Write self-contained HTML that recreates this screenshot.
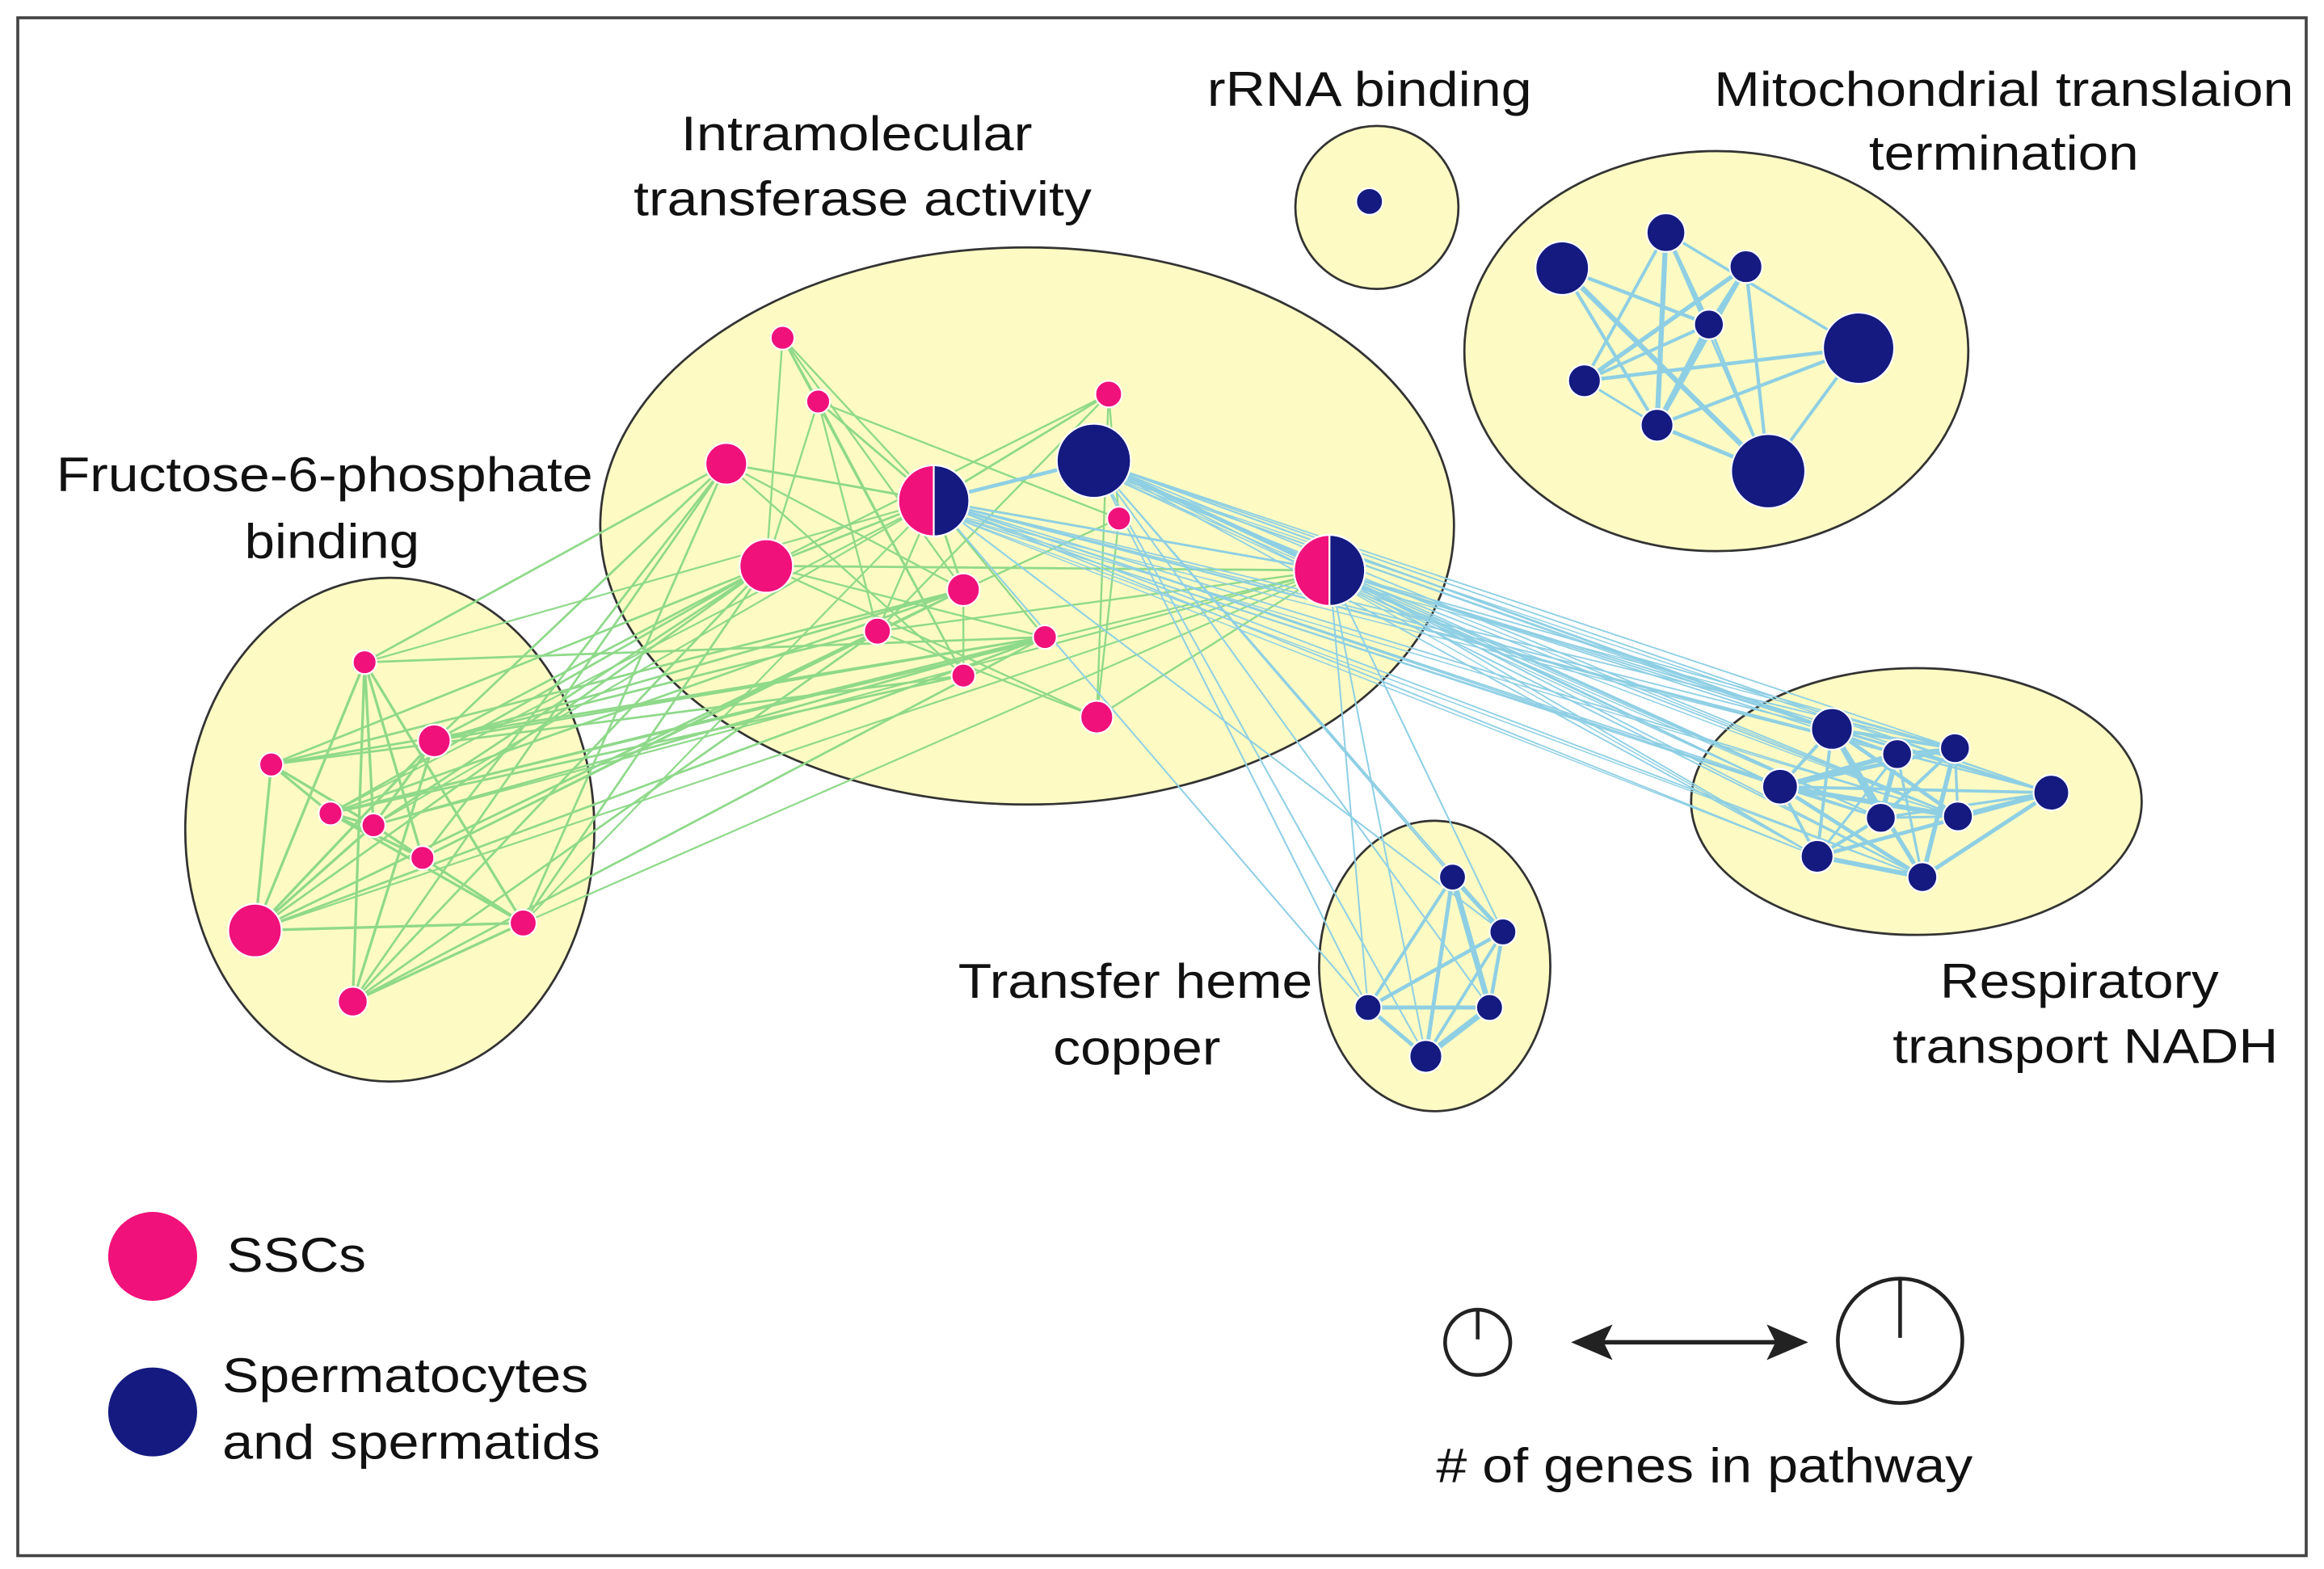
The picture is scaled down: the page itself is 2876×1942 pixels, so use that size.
<!DOCTYPE html>
<html><head><meta charset="utf-8"><style>
html,body{margin:0;padding:0;background:#fff;}
svg{display:block;}
text{font-family:"Liberation Sans",sans-serif;font-size:33px;fill:#111;text-anchor:middle;dominant-baseline:central;}
</style></head><body>
<svg id="s" width="2876" height="1942" viewBox="0 0 1568 1059" preserveAspectRatio="none" xmlns="http://www.w3.org/2000/svg">
<rect x="0" y="0" width="1568" height="1059" fill="#fff"/>
<rect x="12" y="12" width="1544" height="1038" fill="none" stroke="#444" stroke-width="2"/>
<g fill="#fdfbc3" stroke="#333" stroke-width="1.5">
<ellipse cx="693" cy="355" rx="288" ry="188"/>
<ellipse cx="263" cy="560" rx="138" ry="170"/>
<ellipse cx="929" cy="140" rx="55" ry="55"/>
<ellipse cx="1158" cy="237" rx="170" ry="135"/>
<ellipse cx="1293" cy="541" rx="152" ry="90"/>
<ellipse cx="968" cy="652" rx="78" ry="98"/>
</g>
<g id="edges"></g>
<g id="nodes" stroke="#fff" stroke-width="1.2"></g>
<text x="578" y="90" textLength="237" lengthAdjust="spacingAndGlyphs">Intramolecular</text>
<text x="582" y="134" textLength="309" lengthAdjust="spacingAndGlyphs">transferase activity</text>
<text x="924" y="60" textLength="219" lengthAdjust="spacingAndGlyphs">rRNA binding</text>
<text x="1352" y="60" textLength="391" lengthAdjust="spacingAndGlyphs">Mitochondrial translaion</text>
<text x="1352" y="103" textLength="182" lengthAdjust="spacingAndGlyphs">termination</text>
<text x="219" y="320" textLength="362" lengthAdjust="spacingAndGlyphs">Fructose-6-phosphate</text>
<text x="224" y="365" textLength="118" lengthAdjust="spacingAndGlyphs">binding</text>
<text x="766" y="662" textLength="239" lengthAdjust="spacingAndGlyphs">Transfer heme</text>
<text x="767" y="707" textLength="113" lengthAdjust="spacingAndGlyphs">copper</text>
<text x="1403" y="662" textLength="188" lengthAdjust="spacingAndGlyphs">Respiratory</text>
<text x="1407" y="706" textLength="260" lengthAdjust="spacingAndGlyphs">transport NADH</text>
<circle cx="103" cy="848" r="30" fill="#f0117a"/>
<circle cx="103" cy="953" r="30" fill="#141a80"/>
<text x="153" y="847" style="text-anchor:start" textLength="94" lengthAdjust="spacingAndGlyphs">SSCs</text>
<text x="150" y="928" style="text-anchor:start" textLength="247" lengthAdjust="spacingAndGlyphs">Spermatocytes</text>
<text x="150" y="973" style="text-anchor:start" textLength="255" lengthAdjust="spacingAndGlyphs">and spermatids</text>
<circle cx="997" cy="906" r="22" fill="none" stroke="#222" stroke-width="2.5"/>
<line x1="997" y1="884" x2="997" y2="904" stroke="#222" stroke-width="2.5"/>
<circle cx="1282" cy="905" r="42" fill="none" stroke="#222" stroke-width="2.5"/>
<line x1="1282" y1="863" x2="1282" y2="903" stroke="#222" stroke-width="2.5"/>
<line x1="1080" y1="906" x2="1200" y2="906" stroke="#222" stroke-width="3"/>
<polygon points="1060,906 1088,894 1082,906 1088,918" fill="#222"/>
<polygon points="1220,906 1192,894 1198,906 1192,918" fill="#222"/>
<text x="1150" y="989" textLength="362" lengthAdjust="spacingAndGlyphs">#&#160;of genes in pathway</text>
</svg>
<script>
var P="#f0117a",B="#141a80",G="#8fd98a",L="#8ecfe4";
var I=[[528,228,8],[552,271,8],[490,313,14],[517,382,18],[650,398,11],[592,426,9],[705,430,8],[650,456,8],[740,484,11],[748,266,9],[755,350,8]];
var H=[[630,338,24],[897,385,24]];
var IB=[[738,311,25]];
var F=[[246,447,8],[293,500,11],[183,516,8],[223,549,8],[252,557,8],[285,579,8],[172,628,18],[238,676,10],[353,623,9]];
var M=[[1054,181,18],[1124,157,13],[1178,180,11],[1153,219,10],[1254,235,24],[1069,257,11],[1118,287,11],[1193,318,25]];
var R=[[1236,492,14],[1280,509,10],[1319,505,10],[1201,531,12],[1384,535,12],[1269,552,10],[1321,551,10],[1226,578,11],[1297,592,10]];
var T=[[980,592,9],[1014,629,9],[923,680,9],[1005,680,9],[962,713,11]];
var e="";
function ln(a,b,c,w){e+='<line x1="'+a[0]+'" y1="'+a[1]+'" x2="'+b[0]+'" y2="'+b[1]+'" stroke="'+c+'" stroke-width="'+(w||1.2)+'"/>';}
var seed=7;function rnd(){seed=(seed*9301+49297)%233280;return seed/233280;}
var IA=I.concat(H);
IA.forEach(function(a,i){IA.forEach(function(b,j){if(j>i&&rnd()<0.35)ln(a,b,G,1.3);});});
[[0,1],[1,11],[2,11],[3,11],[3,12],[4,11],[9,11]].forEach(function(p){ln(IA[p[0]],IA[p[1]],G,1.5);});
F.forEach(function(a,i){F.forEach(function(b,j){if(j>i&&rnd()<0.5)ln(a,b,G,1.8);});});
[2,3,4,5,6,7].forEach(function(i){F.forEach(function(b){if(rnd()<0.45)ln(I[i],b,G,1.5);});});
H.forEach(function(h){F.forEach(function(b){if(rnd()<0.6)ln(h,b,G,1.2);});});
M.forEach(function(a,i){M.forEach(function(b,j){if(j>i&&rnd()<0.65)ln(a,b,L,1.5+rnd()*2);});});
R.forEach(function(a,i){R.forEach(function(b,j){if(j>i&&rnd()<0.75)ln(a,b,L,1.5+rnd()*2);});});
T.forEach(function(a,i){T.forEach(function(b,j){if(j>i)ln(a,b,L,2+rnd()*2);});});
var BS=[H[0],H[1],IB[0]];
BS.forEach(function(a){R.forEach(function(b){ln(a,b,L,1);if(rnd()<0.5)ln([a[0],a[1]+6],b,L,0.8);});});
BS.forEach(function(a){T.forEach(function(b){if(rnd()<0.8)ln(a,b,L,1.1);});});
ln(H[0],IB[0],L,2.5);ln(IB[0],H[1],L,2.5);ln(H[0],H[1],L,1.5);
document.getElementById("edges").innerHTML=e;
var n="";
function c(a,col){n+='<circle cx="'+a[0]+'" cy="'+a[1]+'" r="'+a[2]+'" fill="'+col+'"/>';}
I.forEach(function(a){c(a,P);});F.forEach(function(a){c(a,P);});
[[924,136,9]].concat(IB,M,R,T).forEach(function(a){c(a,B);});
H.forEach(function(a){var x=a[0],y=a[1],r=a[2];
n+='<path d="M'+x+' '+(y-r)+' A'+r+' '+r+' 0 0 0 '+x+' '+(y+r)+'Z" fill="'+P+'"/>';
n+='<path d="M'+x+' '+(y-r)+' A'+r+' '+r+' 0 0 1 '+x+' '+(y+r)+'Z" fill="'+B+'"/>';
n+='<circle cx="'+x+'" cy="'+y+'" r="'+r+'" fill="none"/>';});
document.getElementById("nodes").innerHTML=n;
</script>
</body></html>
